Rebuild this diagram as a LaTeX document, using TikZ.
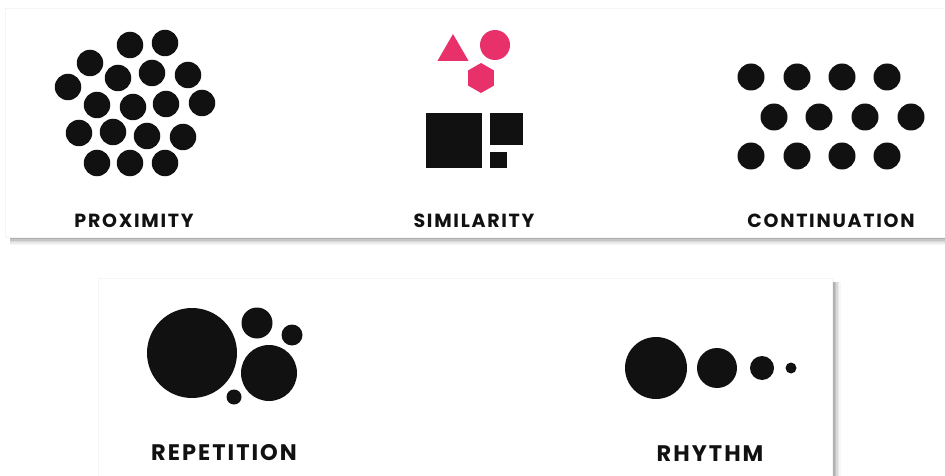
\documentclass[tikz,border=0pt]{standalone}
\usepackage{fontspec}
\newfontfamily\labfont{Poppins}[LetterSpace=9]
\usetikzlibrary{shapes.geometric}
\definecolor{pinkc}{HTML}{E8306A}
\definecolor{ink}{HTML}{111111}
\tikzset{
  dot/.style={circle, fill=ink, inner sep=0pt, minimum size=#1},
  lab/.style={font=\labfont\fontsize{19}{21}\selectfont\bfseries, text=ink, inner sep=0pt, anchor=base},
  biglab/.style={lab, font=\labfont\fontsize{22.5}{24}\selectfont\bfseries},
  panel/.style={fill=white, draw=black!4, line width=0.6pt}
}
\begin{document}
\begin{tikzpicture}[x=1pt,y=-1pt]
\useasboundingbox (0,0) rectangle (945,476);
\fill[white] (0,0) rectangle (945,476);
% top panel shadow
\foreach \o/\a in {0/0.12,1.5/0.11,3/0.09,4.5/0.07,6/0.05,7.5/0.03}{
  \fill[black, opacity=\a] (10,236) rectangle (945,237.5+\o);
}
\node[panel, minimum width=940pt, minimum height=229pt, anchor=north west] (toppanel) at (5,8) {};
% bottom panel shadow
\foreach \o/\a in {0/0.12,1.5/0.10,3/0.09,4.5/0.07,6/0.05,7.5/0.03}{
  \fill[black, opacity=\a] (831,282) rectangle (833+\o,476);
}
\node[panel, minimum width=734pt, minimum height=200pt, anchor=north west] (botpanel) at (98,278) {};

% PROXIMITY
\foreach \x/\y [count=\i] in {130/45,165/43,90/63,68/87,118/78,152/73,188/75,97/105,133/107,166/104,202/103,79/133,113/132,147/136,183/137,97/163,130/163,165/163}{
  \node[dot=26.5pt] (p\i) at (\x,\y) {};
}
\node[lab] (proxlab) at (134,227) {PROXIMITY};

% SIMILARITY
\node[regular polygon, regular polygon sides=3, fill=pinkc, inner sep=0pt, minimum size=36pt] (tri) at (453,52) {};
\node[circle, fill=pinkc, inner sep=0pt, minimum size=30pt] (scirc) at (495,45) {};
\node[regular polygon, regular polygon sides=6, rotate=30, fill=pinkc, inner sep=0pt, minimum size=30pt] (hex) at (481,78) {};
\fill[ink] (426,113) rectangle (482,168);
\fill[ink] (490,113) rectangle (523,145);
\fill[ink] (490,152) rectangle (507,168);
\node[lab] (simlab) at (474,227) {SIMILARITY};

% CONTINUATION
\foreach \x [count=\i] in {751,797,842,887}{
  \node[dot=27pt] (ca\i) at (\x,77) {};
  \node[dot=27pt] (cc\i) at (\x,156) {};
}
\foreach \x [count=\i] in {774,819,865,911}{
  \node[dot=27pt] (cb\i) at (\x,117) {};
}
\node[lab] (contlab) at (831,227) {CONTINUATION};

% REPETITION
\node[dot=90pt] (r1) at (192,353) {};
\node[dot=31pt] (r2) at (257,323) {};
\node[dot=21pt] (r3) at (292,335) {};
\node[dot=56pt] (r4) at (269,373) {};
\node[dot=15pt] (r5) at (234,397) {};
\node[biglab] (replab) at (224,460) {REPETITION};

% RHYTHM
\node[dot=62pt] (h1) at (656,368) {};
\node[dot=40pt] (h2) at (717,368) {};
\node[dot=24pt] (h3) at (762,368) {};
\node[dot=11pt] (h4) at (791,368) {};
\node[biglab] (rhylab) at (710,461) {RHYTHM};
\end{tikzpicture}
\end{document}
